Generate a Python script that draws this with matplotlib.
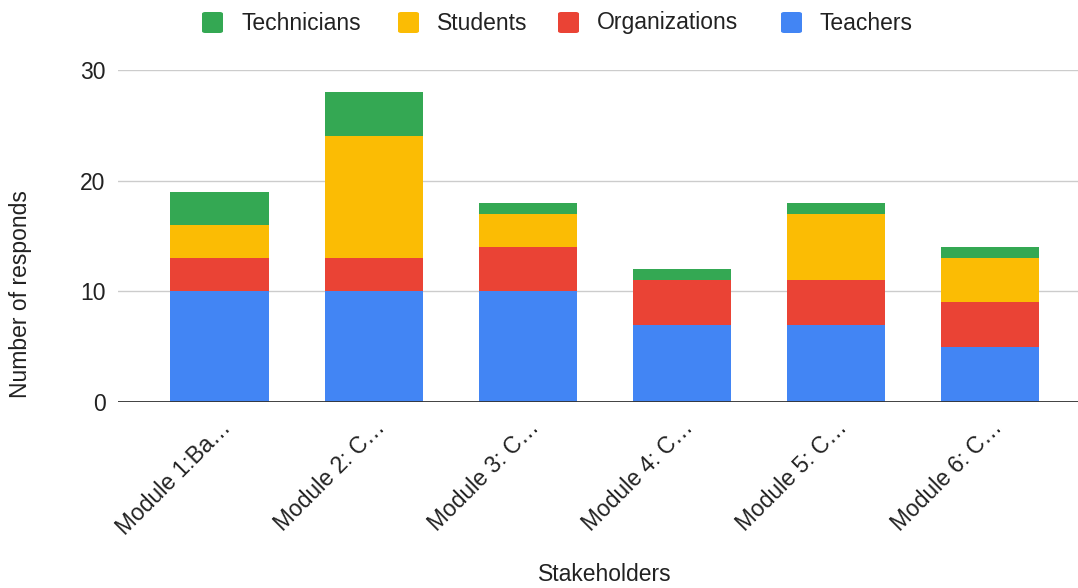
import numpy as np
import matplotlib.pyplot as plt
from matplotlib.patches import FancyBboxPatch

plt.rcParams['font.family'] = ['Liberation Sans', 'DejaVu Sans']

modules = ["Module 1:Ba…", "Module 2: C…", "Module 3: C…",
           "Module 4: C…", "Module 5: C…", "Module 6: C…"]
teachers = [10, 10, 10, 7, 7, 5]
organizations = [3, 3, 4, 4, 4, 4]
students = [3, 11, 3, 0, 6, 4]
technicians = [3, 4, 1, 1, 1, 1]

series = [("Teachers", teachers, "#4285F4"),
          ("Organizations", organizations, "#EA4335"),
          ("Students", students, "#FBBC04"),
          ("Technicians", technicians, "#34A853")]

FS = 16.5
TXT = "#222222"

fig = plt.figure(figsize=(10.78, 5.88), dpi=100)
ax = fig.add_axes([0.1095, 0.3163, 0.8905, 0.5646])

x = np.arange(len(modules))
bottom = np.zeros(len(modules))
for name, vals, col in series:
    ax.bar(x, vals, 0.64, bottom=bottom, color=col, zorder=2)
    bottom += np.array(vals)

ax.set_xlim(-0.66, 5.57)
ax.set_ylim(0, 30)
ax.set_yticks([0, 10, 20, 30])
ax.yaxis.grid(True, color="#cccccc", linewidth=1, zorder=0)
ax.axhline(0, color="#333333", linewidth=1.3, zorder=3)
for s in ax.spines.values():
    s.set_visible(False)
ax.tick_params(axis="both", length=0, labelsize=FS, colors=TXT)
ax.tick_params(axis="y", pad=9)
ax.set_xticks(x)
ax.set_xticklabels(modules, rotation=45, ha="right", rotation_mode="anchor")
ax.tick_params(axis="x", pad=10)

fig.text(0.561, 0.003, "Stakeholders", ha="center", va="bottom",
         fontsize=FS, color=TXT)
fig.text(0.019, 0.50, "Number of responds", ha="center", va="center",
         rotation=90, fontsize=FS, color=TXT)

# legend across the top
legend_items = [("Technicians", "#34A853", 202), ("Students", "#FBBC04", 398),
                ("Organizations", "#EA4335", 558), ("Teachers", "#4285F4", 781)]
W, H = 1078, 588
for name, col, px in legend_items:
    box = FancyBboxPatch((px / W, (H - 33) / H), 21 / W, 21 / H,
                         boxstyle="round,pad=0,rounding_size=0.003",
                         transform=fig.transFigure, facecolor=col,
                         edgecolor="none")
    fig.patches.append(box)
    fig.text((px + 39) / W, (H - 23) / H, name, ha="left", va="center",
             fontsize=FS, color=TXT)

fig.savefig("out.png", dpi=100)
